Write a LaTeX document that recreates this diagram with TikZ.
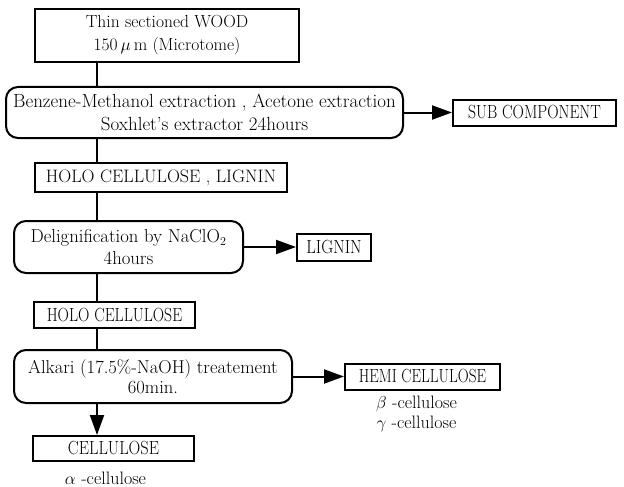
\documentclass[tikz,border=0pt]{standalone}
\usepackage{graphicx}
\usetikzlibrary{arrows.meta,calc}
\newcommand{\condtext}[2]{\scalebox{#1}[1]{#2}}
\begin{document}
\begin{tikzpicture}[x=1pt,y=-1pt,
  box/.style={draw,line width=2pt,inner sep=0pt,align=center,font=\fontsize{18}{23}\selectfont},
  capbox/.style={box,font=\fontsize{19}{20}\selectfont},
  roundbox/.style={box,rounded corners=12pt},
  link/.style={line width=2pt},
  flow/.style={line width=2pt,-{Triangle[length=20pt,width=14pt]}},
  note/.style={inner sep=0pt,font=\fontsize{18}{20}\selectfont,align=center}]
\useasboundingbox (0,0) rectangle (624,487);
\coordinate (spine) at (97,0);
\node[box,font=\fontsize{17.5}{23}\selectfont,minimum width=264pt,minimum height=53pt] (wood) at (167,35.5) {Thin sectioned WOOD\\150\,$\mu$\,m (Microtome)};
\node[roundbox,font=\fontsize{19}{23}\selectfont,minimum width=397pt,minimum height=51pt] (extr) at (204.5,112.5) {Benzene-Methanol extraction , Acetone extraction\\Soxhlet's extractor 24hours};
\node[capbox,minimum width=163pt,minimum height=26pt] (sub) at (534.5,112.5) {\condtext{0.83}{SUB COMPONENT}};
\node[box,minimum width=252pt,minimum height=29pt] (hl) at (161,177.5) {HOLO CELLULOSE , LIGNIN};
\node[roundbox,font=\fontsize{18.7}{22}\selectfont,minimum width=229pt,minimum height=52pt] (delig) at (128.5,247) {Delignification by NaClO$_2$\\4hours};
\node[capbox,minimum width=74pt,minimum height=27pt] (lig) at (334,247) {\condtext{0.87}{LIGNIN}};
\node[capbox,minimum width=161pt,minimum height=26pt] (holo) at (114.5,315) {\condtext{0.83}{HOLO CELLULOSE}};
\node[roundbox,font=\fontsize{18.6}{20}\selectfont,minimum width=278pt,minimum height=53pt] (alk) at (153,376.5) {Alkari (17.5\%-NaOH) treatement\\60min.};
\node[capbox,minimum width=155pt,minimum height=26pt] (hemi) at (422.5,376.5) {\condtext{0.8}{HEMI CELLULOSE}};
\node[note,anchor=north] (bg) at ($(hemi.south)+(-6,5)$) {$\beta$ -cellulose\\$\gamma$ -cellulose};
\node[capbox,minimum width=161pt,minimum height=25pt] (cell) at (113.5,448.5) {\condtext{0.86}{CELLULOSE}};
\node[note] (alpha) at ($(cell.south)+(-8,16)$) {$\alpha$ -cellulose};
\draw[link] (wood.south -| spine) -- (extr.north -| spine);
\draw[link] (extr.south -| spine) -- (hl.north -| spine);
\draw[link] (hl.south -| spine) -- (delig.north -| spine);
\draw[link] (delig.south -| spine) -- (holo.north -| spine);
\draw[link] (holo.south -| spine) -- (alk.north -| spine);
\draw[flow] (alk.south -| spine) -- (cell.north -| spine);
\draw[flow] (extr) -- (sub);
\draw[flow] (delig) -- (lig);
\draw[flow] (alk) -- (hemi);
\end{tikzpicture}
\end{document}
